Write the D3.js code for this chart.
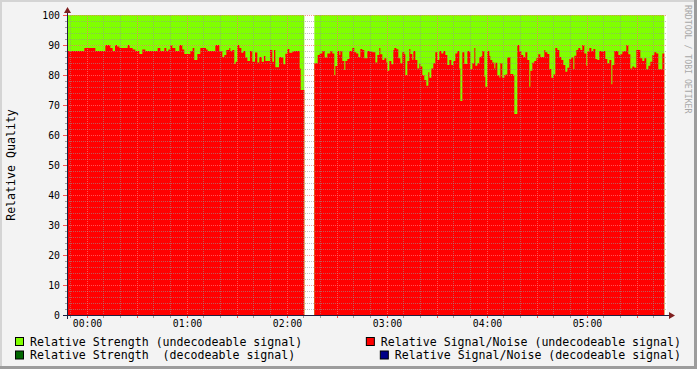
<!DOCTYPE html>
<html>
<head>
<meta charset="utf-8">
<script src="https://cdn.jsdelivr.net/npm/d3@7/dist/d3.min.js"></script>
<style>
body { margin: 0; background: #f3f3f3; }
svg { display: block; font-family: "DejaVu Sans Mono", monospace; }
text { white-space: pre; }
</style>
</head>
<body>
<div class="container"></div>
<script>
// time in minutes after 00:00, values in percent
const timeDomain = [-12, 348];
const hourTicks = [0, 60, 120, 180, 240, 300];
const yTickValues = [0, 10, 20, 30, 40, 50, 60, 70, 80, 90, 100];

// relative strength (undecodeable) - [minute, value], null = no data
const strength = [[-11.8, 100], [130.4, null], [136.4, 100], [346.4, null]];

// relative signal/noise (undecodeable) - step values
const snr = [
    [-11.8, 88], [-1.6, 89], [5, 88], [11, 90], [14, 89], [15.4, 88], [16.8, 90], [18, 89.5],
    [19.4, 89], [24.4, 90], [25.6, 89], [27.4, 88.5], [29, 88], [31.4, 87], [33.2, 88.5], [35, 88],
    [42.4, 89], [44, 88], [46.4, 89], [47.6, 88], [48.8, 88.5], [50, 90], [51.2, 89], [53, 88],
    [55.4, 90], [57.2, 88.5], [58.4, 87], [62, 88], [63.4, 89], [64.4, 85], [66.2, 87], [68, 89],
    [71.4, 88.5], [72.4, 88], [77, 90], [79.4, 88], [81.2, 86], [82.4, 86.7], [83.6, 88.3], [85.4, 89],
    [86, 88], [87.2, 88.3], [88.4, 83.7], [89.2, 84.4], [90.2, 90], [91.4, 89], [92.6, 87.4], [93.8, 88],
    [95, 85.8], [96.2, 84.7], [97.8, 88], [99.2, 84.4], [100.8, 87.5], [102.2, 84.2], [103.4, 86], [104.8, 84.4],
    [106.2, 86.3], [107, 84.7], [109.8, 88.3], [111.2, 84.4], [112.2, 88.3], [113, 82.6], [115.2, 86], [116.6, 85.8],
    [117.8, 83.6], [119, 87.1], [120.2, 88.7], [121.4, 87.4], [123.2, 87.8], [124.4, 88], [127.6, 82.2], [128.2, 75],
    [130.4, null],
    [136.4, 83.9], [138.4, 86.7], [139.6, 87.2], [141.2, 88], [142.6, 85.8], [144.2, 87.2], [146, 88], [147.2, 87.2],
    [148.4, 80], [149, 83], [150.2, 88], [151.4, 86.7], [152, 88], [153.2, 84.7], [154.4, 81.7], [155, 84.7],
    [156.2, 85.3], [157.4, 88], [159.2, 89], [160.4, 87.6], [161.6, 87.2], [162.8, 86], [164, 88.7], [165.2, 88.3],
    [166.4, 85.6], [168.2, 88], [170, 87.8], [171.2, 87.6], [173, 84.2], [174.2, 86.7], [175.4, 89], [176, 86.9],
    [177.2, 85], [178.4, 85.6], [179.6, 84.2], [180.2, 81.4], [181.4, 84.7], [182.6, 83.6], [183.8, 88.3], [184.4, 89],
    [185.6, 88.6], [186.8, 85.6], [188, 83.9], [189.2, 87.6], [190.4, 86.9], [191, 80], [192.2, 84.7], [193.4, 88.7],
    [194, 87], [195.2, 85], [195.8, 88], [197, 85], [198.2, 82.2], [199.4, 83.7], [200, 82.8], [201.2, 80],
    [202.4, 78.3], [203.6, 76.4], [204.8, 80.9], [205.4, 79.1], [206.6, 82.2], [207.8, 83.9], [209, 87.6], [210.2, 85],
    [211.4, 88], [212.6, 87.2], [213.8, 88], [215, 86.7], [216.2, 83.3], [217.4, 85], [218.6, 83.3], [219.8, 84.7],
    [221, 87.2], [222.2, 88], [223.4, 82.2], [224, 71.3], [225.2, 87.6], [226.4, 83.7], [228.2, 88], [229.4, 87.6],
    [230, 82], [231.2, 83.9], [232.4, 89], [233, 83.1], [234.2, 83.9], [235.4, 86], [236.6, 86.3], [237.2, 88],
    [238.4, 79.4], [239, 76.1], [240.2, 88], [241.4, 86.3], [242, 85], [243.2, 84.2], [244.4, 82.2], [245, 84.1],
    [246.2, 79.8], [247.4, 79.2], [248, 83.9], [249.2, 79.1], [250.4, 80], [251, 80.2], [252.2, 85.8], [253.4, 86],
    [254, 80.3], [255.8, 79.8], [256.4, 67], [258.2, 90], [259.4, 88], [260.6, 86.7], [261.8, 86], [263, 87.6],
    [264.2, 85], [265.4, 76.1], [266, 81.4], [267.2, 84.1], [268.4, 84.7], [269.6, 85.6], [270.8, 86.9], [272, 86],
    [274.4, 88.3], [275, 87.6], [276.2, 87], [277.4, 82], [278.6, 79.1], [279.8, 80.2], [281, 89], [282.2, 88.3],
    [283.4, 86], [284.6, 85], [285.8, 83.3], [287, 81.1], [288.2, 82.4], [289.4, 85.3], [290.6, 85.8], [291.8, 82],
    [292.4, 86.4], [293.6, 88.3], [294.8, 89], [296, 88.3], [297.2, 90], [298.4, 87.2], [299.6, 83.1], [300.2, 87.8],
    [301.4, 89], [302.6, 88], [303.8, 88.7], [305, 85.3], [306.2, 85], [307.4, 88], [308.6, 87.8], [309.8, 88],
    [311, 85.3], [312.2, 83.9], [313.4, 85], [314.6, 76.9], [315.2, 83.3], [316.4, 88], [318.8, 86.7], [320, 86.9],
    [321.2, 87.8], [322.4, 88], [323.6, 90], [324.8, 86.9], [326, 82.2], [327.2, 82.8], [328.4, 82.4], [329.6, 88.3],
    [332, 85.6], [333.2, 84.7], [334.4, 85.6], [335.6, 81.9], [336.8, 83.1], [338, 84.4], [339.2, 86.7], [340.4, 87.6],
    [341.6, 87.2], [342.8, 81.9], [345.2, 87.2], [346.4, null]
];

const legendLabels = [
    'Relative Strength (undecodeable signal)',
    'Relative Signal/Noise (undecodeable signal)',
    'Relative Strength  (decodeable signal)',
    'Relative Signal/Noise (decodeable signal)'
];
const legendColors = ['#80ff00', '#ff0000', '#006600', '#000088'];

const WIDTH = 697;
const HEIGHT = 369;
const LEFT = 67, RIGHT = 667, TOP = 15, BOTTOM = 315;

var svg = d3.select('.container').append('svg')
    .attr('width', WIDTH)
    .attr('height', HEIGHT);

// background + 3d frame
svg.append('rect').attr('width', WIDTH).attr('height', HEIGHT).attr('fill', '#f3f3f3');
svg.append('rect').attr('x', 0).attr('y', 0).attr('width', WIDTH).attr('height', 2).attr('fill', '#d4d4d4');
svg.append('rect').attr('x', 0).attr('y', 0).attr('width', 2).attr('height', HEIGHT).attr('fill', '#d4d4d4');
svg.append('rect').attr('x', 0).attr('y', HEIGHT - 3).attr('width', WIDTH).attr('height', 3).attr('fill', '#9c9c9c');
svg.append('rect').attr('x', WIDTH - 3).attr('y', 0).attr('width', 3).attr('height', HEIGHT).attr('fill', '#9c9c9c');

var xScale = d3.scaleLinear().domain(timeDomain).range([LEFT, RIGHT]);
var yScale = d3.scaleLinear().domain([0, 100]).range([BOTTOM, TOP]);

// canvas
svg.append('rect')
    .attr('x', LEFT).attr('y', TOP)
    .attr('width', RIGHT - LEFT).attr('height', BOTTOM - TOP)
    .attr('fill', '#ffffff');

// close each step segment before a gap
var stepPoints = function (steps) {
    var out = [];
    steps.forEach(function (d, i) {
        out.push(d);
        var n = steps[i + 1];
        if (d[1] != null && n && n[1] == null) out.push([n[0], d[1]]);
    });
    return out;
};

var area = d3.area()
    .defined(function (d) { return d[1] != null; })
    .curve(d3.curveStepAfter)
    .x(function (d) { return xScale(d[0]); })
    .y0(yScale(0))
    .y1(function (d) { return yScale(d[1]); });

svg.append('path').datum(stepPoints(strength)).attr('d', area).attr('fill', legendColors[0]);
svg.append('path').datum(stepPoints(snr)).attr('d', area).attr('fill', legendColors[1]);

// grid
var grid = svg.append('g').attr('shape-rendering', 'crispEdges');
var minorX = d3.range(-10, 348, 10).filter(function (m) { return m % 30 != 0; });
var majorX = d3.range(0, 348, 30);
var minorY = d3.range(2, 100, 2).filter(function (v) { return v % 10 != 0; });
var majorY = yTickValues.filter(function (v) { return v > 0; });

grid.selectAll('.vminor').data(minorX).enter().append('line')
    .attr('x1', xScale).attr('x2', xScale).attr('y1', TOP).attr('y2', BOTTOM)
    .attr('stroke', 'rgba(150,150,150,0.6)').attr('stroke-dasharray', '1,1');
grid.selectAll('.hminor').data(minorY).enter().append('line')
    .attr('x1', LEFT).attr('x2', RIGHT).attr('y1', yScale).attr('y2', yScale)
    .attr('stroke', 'rgba(150,150,150,0.6)').attr('stroke-dasharray', '1,1');
grid.selectAll('.vmajor').data(majorX).enter().append('line')
    .attr('x1', xScale).attr('x2', xScale).attr('y1', TOP).attr('y2', BOTTOM)
    .attr('stroke', 'rgba(255,110,110,0.75)').attr('stroke-dasharray', '1,1');
grid.selectAll('.hmajor').data(majorY).enter().append('line')
    .attr('x1', LEFT).attr('x2', RIGHT).attr('y1', yScale).attr('y2', yScale)
    .attr('stroke', 'rgba(255,110,110,0.75)').attr('stroke-dasharray', '1,1');

// ticks
var ticks = svg.append('g').attr('shape-rendering', 'crispEdges');
ticks.selectAll('.xt').data(minorX.concat(majorX)).enter().append('line')
    .attr('x1', xScale).attr('x2', xScale).attr('y1', BOTTOM).attr('y2', BOTTOM + 3)
    .attr('stroke', function (m) { return m % 30 == 0 ? '#ff5050' : '#a0a0a0'; });
ticks.selectAll('.yt').data(minorY.concat(yTickValues)).enter().append('line')
    .attr('x1', function (v) { return v % 10 == 0 ? LEFT - 4 : LEFT - 2; })
    .attr('x2', LEFT).attr('y1', yScale).attr('y2', yScale)
    .attr('stroke', function (v) { return v % 10 == 0 ? '#ff5050' : '#a0a0a0'; });

// axis lines + arrows
svg.append('line').attr('x1', LEFT - 4).attr('x2', RIGHT + 3).attr('y1', BOTTOM + 0.5).attr('y2', BOTTOM + 0.5)
    .attr('stroke', '#1f1f3f');
svg.append('line').attr('x1', LEFT + 0.5).attr('x2', LEFT + 0.5).attr('y1', BOTTOM + 4).attr('y2', TOP - 5)
    .attr('stroke', '#1f1f3f');
svg.append('path').attr('d', 'M' + (RIGHT + 8) + ',' + (BOTTOM + 0.5) + 'l-6,-3.5v7z').attr('fill', '#7f1f1f');
svg.append('path').attr('d', 'M' + (LEFT + 0.5) + ',' + (TOP - 8) + 'l-3.5,6h7z').attr('fill', '#7f1f1f');

// axis labels
var fmt = function (m) {
    return String(Math.floor(m / 60)).padStart(2, '0') + ':' + String(m % 60).padStart(2, '0');
};
var xAxis = d3.axisBottom(xScale).tickValues(hourTicks).tickFormat(fmt).tickSize(0).tickPadding(5);
var yAxis = d3.axisLeft(yScale).tickValues(yTickValues).tickSize(0).tickPadding(7);

var gx = svg.append('g').attr('transform', 'translate(0,' + BOTTOM + ')').call(xAxis);
var gy = svg.append('g').attr('transform', 'translate(' + LEFT + ',0)').call(yAxis);
[gx, gy].forEach(function (g) {
    g.select('.domain').remove();
    g.selectAll('text').attr('font-family', '"DejaVu Sans Mono", monospace')
        .attr('font-size', '9.8px').attr('fill', '#000');
});

svg.append('text')
    .attr('transform', 'translate(15,165) rotate(-90)')
    .attr('text-anchor', 'middle')
    .attr('font-size', '11.6px')
    .text('Relative Quality');

// watermark
svg.append('text')
    .attr('transform', 'translate(685,5) rotate(90)')
    .attr('font-size', '8.2px')
    .attr('fill', '#a8a8a8')
    .text('RRDTOOL / TOBI OETIKER');

// legend
var legend = svg.append('g').attr('font-size', '11.6px');
legendLabels.forEach(function (label, i) {
    var row = Math.floor(i / 2);
    var baseY = 345.5 + row * 13.5;
    var t = legend.append('text').attr('y', baseY).attr('xml:space', 'preserve').text(label);
    var tx;
    if (i % 2 == 0) {
        tx = 30;
        t.attr('x', tx);
    } else {
        t.attr('x', 681).attr('text-anchor', 'end');
        tx = 681 - t.node().getComputedTextLength();
    }
    legend.append('rect')
        .attr('x', tx - 14.5).attr('y', baseY - 8)
        .attr('width', 8).attr('height', 8)
        .attr('fill', legendColors[i])
        .attr('stroke', '#000').attr('stroke-width', 1);
});
</script>
</body>
</html>
